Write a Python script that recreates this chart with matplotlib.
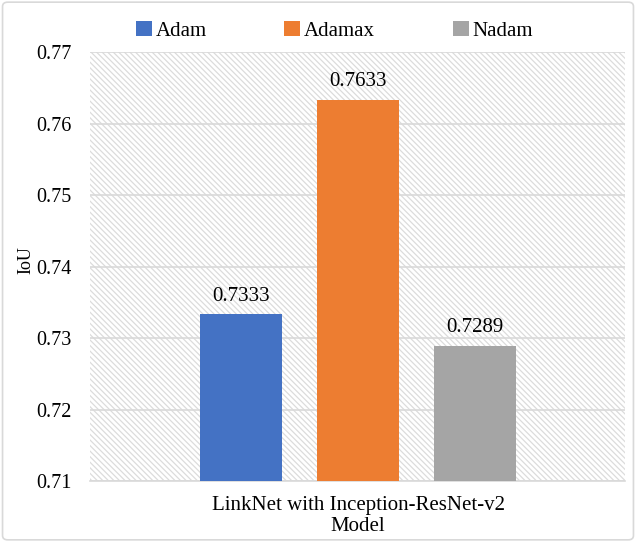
import matplotlib.pyplot as plt
from matplotlib.patches import Rectangle, FancyBboxPatch

plt.rcParams['font.family'] = ['Liberation Serif', 'DejaVu Serif']
plt.rcParams['hatch.linewidth'] = 0.9
plt.rcParams['hatch.color'] = '#dcdcdc'

optimizers = ['Adam', 'Adamax', 'Nadam']
iou = [0.7333, 0.7633, 0.7289]
colors = ['#4472c4', '#ed7d31', '#a5a5a5']
category = 'LinkNet with Inception-ResNet-v2\nModel'

fig = plt.figure(figsize=(6.36, 5.42), dpi=100)
ax = fig.add_axes([0.1415, 0.1125, 0.8412, 0.7915])

# rounded chart border
fig.patches.append(FancyBboxPatch((0.004, 0.004), 0.992, 0.992, boxstyle='round,pad=0,rounding_size=0.008',
                                  transform=fig.transFigure, fill=False, edgecolor='#d9d9d9', linewidth=1.2))

# hatched plot background
ax.add_patch(Rectangle((0, 0), 1, 1, transform=ax.transAxes, facecolor='white',
                       hatch='\\\\\\\\\\\\', edgecolor='#dcdcdc', linewidth=0, zorder=0))

x = [-1, 0, 1]
bars = ax.bar(x, iou, width=0.7, color=colors, zorder=3)
for xi, v in zip(x, iou):
    ax.text(xi, v + 0.0012, f'{v:.4f}', ha='center', va='bottom', fontsize=15)

ax.set_xlim(-2.29, 2.28)
ax.set_ylim(0.71, 0.77)
ax.set_yticks([0.71, 0.72, 0.73, 0.74, 0.75, 0.76, 0.77])
ax.set_yticklabels([f'{t:.2f}' for t in ax.get_yticks()], fontsize=14.5)
ax.set_xticks([0])
ax.set_xticklabels([category], fontsize=15, linespacing=1.15)
ax.tick_params(axis='y', length=0, pad=13)
ax.tick_params(axis='x', length=0, pad=11)
ax.grid(axis='y', color='#d9d9d9', linewidth=1.2, zorder=1)
ax.set_axisbelow(True)
for s in ['top', 'right', 'left']:
    ax.spines[s].set_visible(False)
ax.spines['bottom'].set_color('#d9d9d9')
ax.spines['bottom'].set_linewidth(1.2)
ax.set_ylabel('IoU', fontsize=13)
ax.yaxis.set_label_coords(-0.104, 0.515)

# one legend entry per series, spaced across the top
legend_x = [136, 284, 453]
for b, name, lx in zip(bars, optimizers, legend_x):
    leg = fig.legend([b], [name], loc='center left', bbox_to_anchor=(lx / 636, 1 - 31 / 542),
                     frameon=False, fontsize=15, handlelength=0.75, handleheight=0.75,
                     handletextpad=0.2, borderpad=0, borderaxespad=0)

fig.savefig('out.png', dpi=100)
